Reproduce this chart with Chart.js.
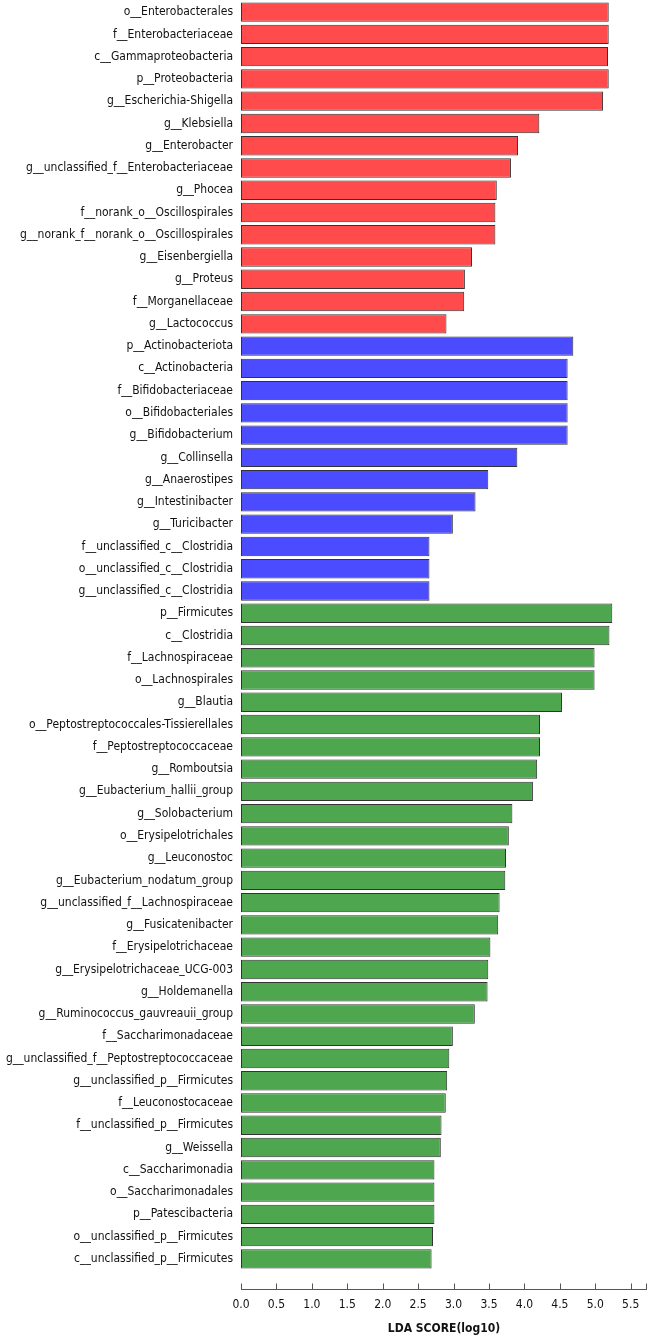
<!DOCTYPE html>
<html>
<head>
<meta charset="utf-8">
<title>LDA score</title>
<script src="https://cdn.jsdelivr.net/npm/chart.js@4.4.1/dist/chart.umd.min.js"></script>
<style>
  html, body { margin: 0; padding: 0; background: #fff; }
  #lefse { display: block; }
</style>
</head>
<body>
<canvas id="lefse" width="652" height="1339"></canvas>
<script>
// taxa, top to bottom
var taxa = [
  "o__Enterobacterales", "f__Enterobacteriaceae", "c__Gammaproteobacteria", "p__Proteobacteria",
  "g__Escherichia-Shigella", "g__Klebsiella", "g__Enterobacter", "g__unclassified_f__Enterobacteriaceae",
  "g__Phocea", "f__norank_o__Oscillospirales", "g__norank_f__norank_o__Oscillospirales", "g__Eisenbergiella",
  "g__Proteus", "f__Morganellaceae", "g__Lactococcus",
  "p__Actinobacteriota", "c__Actinobacteria", "f__Bifidobacteriaceae", "o__Bifidobacteriales",
  "g__Bifidobacterium", "g__Collinsella", "g__Anaerostipes", "g__Intestinibacter", "g__Turicibacter",
  "f__unclassified_c__Clostridia", "o__unclassified_c__Clostridia", "g__unclassified_c__Clostridia",
  "p__Firmicutes", "c__Clostridia", "f__Lachnospiraceae", "o__Lachnospirales", "g__Blautia",
  "o__Peptostreptococcales-Tissierellales", "f__Peptostreptococcaceae", "g__Romboutsia",
  "g__Eubacterium_hallii_group", "g__Solobacterium", "o__Erysipelotrichales", "g__Leuconostoc",
  "g__Eubacterium_nodatum_group", "g__unclassified_f__Lachnospiraceae", "g__Fusicatenibacter",
  "f__Erysipelotrichaceae", "g__Erysipelotrichaceae_UCG-003", "g__Holdemanella",
  "g__Ruminococcus_gauvreauii_group", "f__Saccharimonadaceae", "g__unclassified_f__Peptostreptococcaceae",
  "g__unclassified_p__Firmicutes", "f__Leuconostocaceae", "f__unclassified_p__Firmicutes", "g__Weissella",
  "c__Saccharimonadia", "o__Saccharimonadales", "p__Patescibacteria", "o__unclassified_p__Firmicutes",
  "c__unclassified_p__Firmicutes"
];

// LDA scores (log10)
var ldaScores = [
  5.19, 5.19, 5.18, 5.19, 5.11, 4.21, 3.91, 3.81, 3.61, 3.59, 3.59, 3.26, 3.16, 3.15, 2.90,
  4.69, 4.61, 4.61, 4.61, 4.61, 3.90, 3.49, 3.31, 2.99, 2.66, 2.66, 2.66,
  5.24, 5.20, 4.99, 4.99, 4.53, 4.22, 4.22, 4.18, 4.12, 3.83, 3.78, 3.74, 3.73, 3.65, 3.63,
  3.52, 3.49, 3.48, 3.30, 2.99, 2.94, 2.91, 2.89, 2.83, 2.82, 2.73, 2.73, 2.73, 2.71, 2.69
];

// which group each taxon is enriched in
var groups = [
  "A", "A", "A", "A", "A", "A", "A", "A", "A", "A", "A", "A", "A", "A", "A",
  "B", "B", "B", "B", "B", "B", "B", "B", "B", "B", "B", "B",
  "C", "C", "C", "C", "C", "C", "C", "C", "C", "C", "C", "C", "C", "C", "C",
  "C", "C", "C", "C", "C", "C", "C", "C", "C", "C", "C", "C", "C", "C", "C"
];
var groupColors = { A: "#ff4b4b", B: "#4b4bff", C: "#4ea74e" };

var xTicks = [0, 0.5, 1, 1.5, 2, 2.5, 3, 3.5, 4, 4.5, 5, 5.5];

Chart.defaults.font.family = "'DejaVu Sans Condensed', 'DejaVu Sans', sans-serif";
Chart.defaults.font.size = 12;
Chart.defaults.color = "#111";

// LEfSe style axis: line a bit below the bars, ticks pointing up
var ldaAxis = {
  id: "ldaAxis",
  afterDraw: function(chart) {
    var xs = chart.scales.x;
    var ctx = chart.ctx;
    var y0 = Math.round(xs.top + 19) + 0.5;
    ctx.save();
    ctx.strokeStyle = "#555";
    ctx.lineWidth = 1;
    ctx.beginPath();
    ctx.moveTo(xs.left, y0);
    ctx.lineTo(xs.right, y0);
    xs.ticks.forEach(function(t) {
      var px = Math.round(xs.getPixelForValue(t.value)) + 0.5;
      ctx.moveTo(px, y0);
      ctx.lineTo(px, y0 - 6);
    });
    ctx.moveTo(Math.round(xs.right) - 0.5, y0);
    ctx.lineTo(Math.round(xs.right) - 0.5, y0 - 6);
    ctx.stroke();
    ctx.restore();
  }
};

var ctx = document.getElementById("lefse");

var chart = new Chart(ctx, {
  type: "bar",
  data: {
    labels: taxa,
    datasets: [{
      label: "LDA",
      data: ldaScores,
      backgroundColor: groups.map(function(g) { return groupColors[g]; }),
      borderColor: "#333",
      borderWidth: 1,
      borderSkipped: false,
      barPercentage: 0.87,
      categoryPercentage: 1.0
    }]
  },
  options: {
    indexAxis: "y",
    responsive: false,
    animation: false,
    devicePixelRatio: 1,
    layout: { padding: { top: 1, right: 5, bottom: 0, left: 0 } },
    plugins: {
      legend: { display: false },
      tooltip: { enabled: false }
    },
    scales: {
      x: {
        min: 0,
        max: 5.73,
        afterBuildTicks: function(scale) {
          scale.ticks = xTicks.map(function(v) { return { value: v }; });
        },
        afterFit: function(scale) {
          scale.height = 69;
          scale.paddingLeft = 0;
          scale.paddingRight = 0;
        },
        grid: { display: false, drawTicks: false },
        border: { display: false },
        ticks: {
          padding: 28,
          color: "#111",
          maxRotation: 0,
          callback: function(v) { return Number(v).toFixed(1); }
        },
        title: {
          display: true,
          text: "LDA SCORE(log10)",
          font: { weight: "bold", size: 12 },
          color: "#111",
          padding: { top: 0, bottom: 3 }
        }
      },
      y: {
        afterFit: function(scale) {
          scale.width = 241;
          scale.paddingTop = 0;
          scale.paddingBottom = 0;
        },
        grid: { display: false, drawTicks: false },
        border: { display: false },
        ticks: { padding: 8, color: "#111", autoSkip: false }
      }
    }
  },
  plugins: [ldaAxis]
});
</script>
</body>
</html>
